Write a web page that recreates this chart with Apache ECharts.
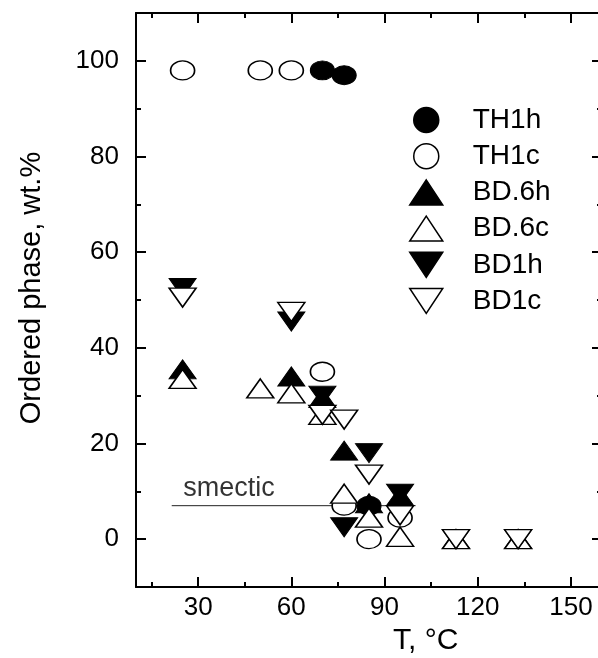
<!DOCTYPE html>
<html><head><meta charset="utf-8">
<script src="https://cdn.jsdelivr.net/npm/echarts@6/dist/echarts.min.js"></script>
<style>html,body{margin:0;padding:0;background:#fff}#c{width:598px;height:658px}</style>
</head><body><div id="c"></div>
<script>
// ---- data ----
const xMajorTicks = [30, 60, 90, 120, 150];
const xMinorTicks = [15, 45, 75, 105, 135];
const yMajorTicks = [0, 20, 40, 60, 80, 100];
const yMinorTicks = [10, 30, 50, 70, 90];

const TH1h = [[70, 98], [77, 97], [85, 7]];
const TH1c = [[25, 98], [50, 98], [60, 98], [70, 35], [77, 7], [85, 0], [95, 4.5]];
const BD6h = [[25, 35.5], [60, 34], [70, 29.5], [77, 18.5], [85, 7.5], [95, 9], [113, 0], [133, 0]];
const BD6c = [[25, 33.5], [50, 31.5], [60, 30.5], [70, 26], [77, 9.5], [85, 4.5], [95, 0.5], [113, 0], [133, 0]];
const BD1h = [[25, 52.5], [60, 45.5], [70, 30], [77, 2.5], [85, 18], [95, 9.5], [113, 0], [133, 0]];
const BD1c = [[25, 50.5], [60, 47.5], [70, 26], [77, 25], [85, 13.5], [95, 5], [113, 0], [133, 0]];
const smecticLine = [[21.5, 7], [100, 7]];
const smecticText = 'smectic';

const FONT = 'Liberation Sans';
const DOWN_TRI = 'path://M0,0L2,0L1,2Z';
const chart = echarts.init(document.getElementById('c'), null, {renderer: 'canvas'});

function xAx(grid, pos, ticks, len, labels, showLine) {
  return {
    type: 'value', gridIndex: grid, position: pos, min: 10, max: 160,
    axisLine: {show: showLine, onZero: false, lineStyle: {color: '#000', width: 2}},
    axisTick: {show: true, inside: true, length: len, customValues: ticks, lineStyle: {color: '#000', width: 2}},
    axisLabel: labels ? {show: true, customValues: ticks, color: '#000', fontSize: 26, fontFamily: FONT, margin: 8} : {show: false},
    splitLine: {show: false}
  };
}
function yAx(grid, pos, ticks, len, labels, showLine) {
  return {
    type: 'value', gridIndex: grid, position: pos, min: -10, max: 110,
    axisLine: {show: showLine, onZero: false, lineStyle: {color: '#000', width: 2}},
    axisTick: {show: true, inside: true, length: len, customValues: ticks, lineStyle: {color: '#000', width: 2}},
    axisLabel: labels ? {show: true, customValues: ticks, color: '#000', fontSize: 26, fontFamily: FONT, margin: 17} : {show: false},
    splitLine: {show: false}
  };
}

const xAxes = [
  xAx(0, 'bottom', xMajorTicks, 10, true, true),
  xAx(0, 'top', xMajorTicks, 10, false, true),
  xAx(1, 'bottom', xMinorTicks, 5, false, false),
  xAx(1, 'top', xMinorTicks, 5, false, false)
];
const yAxes = [
  yAx(0, 'left', yMajorTicks, 10, true, true),
  yAx(0, 'right', yMajorTicks, 10, false, true),
  yAx(1, 'left', yMinorTicks, 5, false, false),
  yAx(1, 'right', yMinorTicks, 5, false, false)
];
yAxes[0].name = 'Ordered phase, wt.%';
yAxes[0].nameLocation = 'middle';
yAxes[0].nameGap = 90;
yAxes[0].nameTextStyle = {color: '#000', fontSize: 29, fontFamily: FONT, padding: [0, 0, 0, 24]};

const circ = [24, 19];
const tri = [27, 19];
function sc(name, data, symbol, filled) {
  return {
    name, type: 'scatter', data, xAxisIndex: 0, yAxisIndex: 0,
    symbol, symbolSize: symbol === 'circle' ? circ : tri,
    itemStyle: {color: filled ? '#000' : '#fff', borderColor: '#000', borderWidth: filled ? 1 : 1.5, opacity: 1},
    emphasis: {disabled: true}
  };
}

const gridBox = {left: 136, width: 466, top: 13, height: 574, containLabel: false, outerBoundsMode: 'none'};
const option = {
  animation: false,
  backgroundColor: '#fff',
  grid: [Object.assign({}, gridBox), Object.assign({}, gridBox)],
  xAxis: xAxes,
  yAxis: yAxes,
  title: {text: 'T, °C', left: 393, top: 626, padding: 0,
    textStyle: {color: '#000', fontSize: 30, fontWeight: 'normal', fontFamily: FONT}},
  legend: {
    orient: 'vertical', left: 409, top: 106, padding: 0,
    itemWidth: 33, itemHeight: 25, itemGap: 8.2, symbolKeepAspect: false,
    itemStyle: {borderWidth: 1.5},
    textStyle: {color: '#000', fontSize: 28, fontFamily: FONT, padding: [0, 0, 0, 25]},
    data: ['TH1h', 'TH1c', 'BD.6h', 'BD.6c', 'BD1h', 'BD1c'],
    selectedMode: false
  },
  series: [
    {
      name: 'smectic', type: 'line', data: smecticLine, xAxisIndex: 0, yAxisIndex: 0,
      symbol: 'none', lineStyle: {color: '#222', width: 1}, z: 1, silent: true
    },
    {
      name: 'smecticLabel', type: 'scatter', data: [smecticLine[0]], xAxisIndex: 0, yAxisIndex: 0,
      symbolSize: 0, silent: true,
      label: {show: true, formatter: smecticText, position: [11.5, -17], align: 'left', verticalAlign: 'middle',
        color: '#000', fontSize: 27, fontFamily: FONT}
    },
    sc('TH1h', TH1h, 'circle', true),
    sc('TH1c', TH1c, 'circle', false),
    sc('BD.6h', BD6h, 'triangle', true),
    sc('BD.6c', BD6c, 'triangle', false),
    sc('BD1h', BD1h, DOWN_TRI, true),
    sc('BD1c', BD1c, DOWN_TRI, false)
  ]
};
chart.setOption(option);
</script>
</body></html>
